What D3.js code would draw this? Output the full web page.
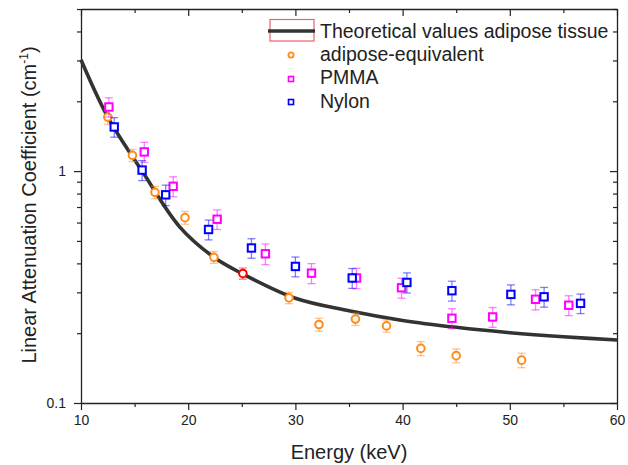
<!DOCTYPE html>
<html>
<head>
<meta charset="utf-8">
<script src="https://cdn.jsdelivr.net/npm/d3@7"></script>
<style>
  body { margin: 0; background: #fff; }
  text { font-family: "Liberation Sans", Arial, sans-serif; }
</style>
</head>
<body>
<script>
// theoretical curve (keV, cm^-1)
var theoryE = [10, 12.5, 15.7, 19.2, 22.4, 25, 30, 35, 40, 45, 50, 55, 60];
var theoryMu = [3.02, 1.71, 1.0, 0.575, 0.425, 0.362, 0.283, 0.25, 0.227, 0.212, 0.201, 0.193, 0.187];

// adipose-equivalent
var adiposeE = [12.5, 14.8, 16.9, 19.7, 22.4, 25.1, 29.4, 32.2, 35.6, 38.5, 41.7, 45.0, 51.1];
var adiposeMu = [1.71, 1.17, 0.81, 0.63, 0.425, 0.362, 0.284, 0.218, 0.230, 0.215, 0.172, 0.160, 0.153];
var adiposeErr = [0.12, 0.07, 0.05, 0.04, 0.025, 0.02, 0.016, 0.014, 0.014, 0.013, 0.012, 0.011, 0.011];
var adiposeRed = 5; // the 25 keV point is drawn in red

// PMMA
var pmmaE = [12.6, 15.9, 18.6, 22.7, 27.2, 31.5, 35.7, 39.9, 44.6, 48.4, 52.4, 55.5];
var pmmaMu = [1.89, 1.21, 0.86, 0.62, 0.44, 0.363, 0.346, 0.314, 0.232, 0.235, 0.280, 0.264];
var pmmaErr = [0.18, 0.12, 0.085, 0.06, 0.045, 0.036, 0.035, 0.031, 0.023, 0.023, 0.028, 0.026];

// Nylon
var nylonE = [13.1, 15.7, 17.9, 21.9, 25.9, 30.0, 35.3, 40.4, 44.6, 50.1, 53.2, 56.6];
var nylonMu = [1.55, 1.01, 0.79, 0.56, 0.466, 0.388, 0.346, 0.331, 0.305, 0.294, 0.287, 0.269];
var nylonErr = [0.15, 0.10, 0.08, 0.055, 0.045, 0.038, 0.034, 0.033, 0.030, 0.029, 0.028, 0.026];

var xTicks = [10, 20, 30, 40, 50, 60];
var xMinor = [15, 25, 35, 45, 55];
var yLabels = [0.1, 1];

var legendNames = ["Theoretical values adipose tissue", "adipose-equivalent", "PMMA", "Nylon"];
var colors = { adipose: "#ff8c1a", pmma: "#ff00ff", nylon: "#0000ff", theory: "#333333" };

var W = 628, H = 465;
var margin = { top: 9, right: 11, bottom: 62, left: 81 };
var width = W - margin.left - margin.right,
    height = H - margin.top - margin.bottom;

var svg = d3.select("body").append("svg")
    .attr("width", W)
    .attr("height", H);

var g = svg.append("g")
    .attr("transform", `translate(${margin.left},${margin.top})`);

var x = d3.scaleLinear().domain([10, 60]).range([0, width]);
var y = d3.scaleLog().domain([0.1, 5]).range([height, 0]);

var yAll = y.ticks(); // 0.1 .. 5
var fmtY = function (d) { return yLabels.indexOf(d) >= 0 ? d3.format("~g")(d) : ""; };

// bottom axis (outward ticks)
g.append("g")
    .attr("transform", `translate(0,${height})`)
    .call(d3.axisBottom(x).tickValues(xTicks).tickSize(7).tickPadding(5).tickSizeOuter(0))
    .call(a => a.selectAll("text").attr("font-size", 14).attr("fill", "#222"));
g.append("g")
    .attr("transform", `translate(0,${height})`)
    .call(d3.axisBottom(x).tickValues(xMinor).tickSize(4).tickFormat("").tickSizeOuter(0))
    .call(a => a.select(".domain").remove());

// top axis (inward ticks)
g.append("g")
    .call(d3.axisTop(x).tickValues(xTicks).tickSize(-7).tickFormat("").tickSizeOuter(0));
g.append("g")
    .call(d3.axisTop(x).tickValues(xMinor).tickSize(-4).tickFormat("").tickSizeOuter(0))
    .call(a => a.select(".domain").remove());

// left axis (outward ticks)
g.append("g")
    .call(d3.axisLeft(y).tickValues(yAll).tickFormat(fmtY).tickSize(4).tickPadding(11).tickSizeOuter(0))
    .call(a => a.selectAll(".tick line").attr("x2", d => yLabels.indexOf(d) >= 0 ? -7 : -4))
    .call(a => a.selectAll("text").attr("font-size", 14).attr("fill", "#222"));

// right axis (inward ticks)
g.append("g")
    .attr("transform", `translate(${width},0)`)
    .call(d3.axisRight(y).tickValues(yAll).tickFormat("").tickSizeOuter(0))
    .call(a => a.selectAll(".tick line").attr("x2", d => yLabels.indexOf(d) >= 0 ? -7 : -4));

g.selectAll(".domain").attr("stroke", "#222").attr("stroke-width", 1.3);
g.selectAll(".tick line").attr("stroke", "#222").attr("stroke-width", 1.2);

// theoretical curve
var theory = theoryE.map((e, i) => [e, theoryMu[i]]);
var line = d3.line()
    .x(d => x(d[0]))
    .y(d => y(d[1]))
    .curve(d3.curveCatmullRom.alpha(0.5));
g.append("path")
    .datum(theory)
    .attr("fill", "none")
    .attr("stroke", colors.theory)
    .attr("stroke-width", 3.6)
    .attr("d", line);

// error bars + markers
function drawSeries(es, mus, errs, color, shape, redIndex) {
    var data = es.map((e, i) => ({ e: e, mu: mus[i], err: errs[i], c: i === redIndex ? "#ff0000" : color }));
    var s = g.append("g");
    var eb = s.selectAll(".eb").data(data).join("g")
        .attr("stroke", d => d.c)
        .attr("stroke-opacity", 0.5)
        .attr("stroke-width", 1.3);
    eb.append("line")
        .attr("x1", d => x(d.e)).attr("x2", d => x(d.e))
        .attr("y1", d => y(d.mu - d.err)).attr("y2", d => y(d.mu + d.err));
    eb.append("line")
        .attr("x1", d => x(d.e) - 4).attr("x2", d => x(d.e) + 4)
        .attr("y1", d => y(d.mu - d.err)).attr("y2", d => y(d.mu - d.err));
    eb.append("line")
        .attr("x1", d => x(d.e) - 4).attr("x2", d => x(d.e) + 4)
        .attr("y1", d => y(d.mu + d.err)).attr("y2", d => y(d.mu + d.err));

    if (shape === "circle") {
        s.selectAll("circle").data(data).join("circle")
            .attr("cx", d => x(d.e)).attr("cy", d => y(d.mu)).attr("r", 3.8)
            .attr("fill", "#fff").attr("stroke", d => d.c).attr("stroke-width", 2);
    } else {
        s.selectAll("rect").data(data).join("rect")
            .attr("x", d => x(d.e) - 3.7).attr("y", d => y(d.mu) - 3.7)
            .attr("width", 7.4).attr("height", 7.4)
            .attr("fill", "#fff").attr("stroke", d => d.c).attr("stroke-width", 2);
    }
}

drawSeries(adiposeE, adiposeMu, adiposeErr, colors.adipose, "circle", adiposeRed);
drawSeries(pmmaE, pmmaMu, pmmaErr, colors.pmma, "square", -1);
drawSeries(nylonE, nylonMu, nylonErr, colors.nylon, "square", -1);

// axis titles
svg.append("text")
    .attr("x", 349).attr("y", 459)
    .attr("text-anchor", "middle")
    .attr("font-size", 20)
    .attr("fill", "#222")
    .text("Energy (keV)");

var yt = svg.append("text")
    .attr("transform", "translate(36,205) rotate(-90)")
    .attr("text-anchor", "middle")
    .attr("font-size", 20)
    .attr("fill", "#222");
yt.append("tspan").text("Linear Attenuation Coefficient (cm");
yt.append("tspan").attr("font-size", 12).attr("dy", -8).text("-1");
yt.append("tspan").attr("dy", 8).text(")");

// legend
var leg = svg.append("g");
leg.append("rect")
    .attr("x", 270).attr("y", 19.5).attr("width", 44).attr("height", 21.5)
    .attr("fill", "none").attr("stroke", "#f06060").attr("stroke-width", 1.2);
leg.append("line")
    .attr("x1", 268).attr("x2", 315).attr("y1", 31).attr("y2", 31)
    .attr("stroke", colors.theory).attr("stroke-width", 3.6);

var legY = [37.5, 60.5, 84, 107.5];
legendNames.forEach(function (name, i) {
    leg.append("text")
        .attr("x", 320).attr("y", legY[i])
        .attr("font-size", 19.5)
        .attr("fill", "#222")
        .text(name);
});
leg.append("circle").attr("cx", 291).attr("cy", 55).attr("r", 2.6)
    .attr("fill", "#fff").attr("stroke", colors.adipose).attr("stroke-width", 1.8);
leg.append("rect").attr("x", 288.5).attr("y", 76.5).attr("width", 5).attr("height", 5)
    .attr("fill", "#fff").attr("stroke", colors.pmma).attr("stroke-width", 1.6);
leg.append("rect").attr("x", 288.5).attr("y", 99.5).attr("width", 5).attr("height", 5)
    .attr("fill", "#fff").attr("stroke", colors.nylon).attr("stroke-width", 1.6);
</script>
</body>
</html>
